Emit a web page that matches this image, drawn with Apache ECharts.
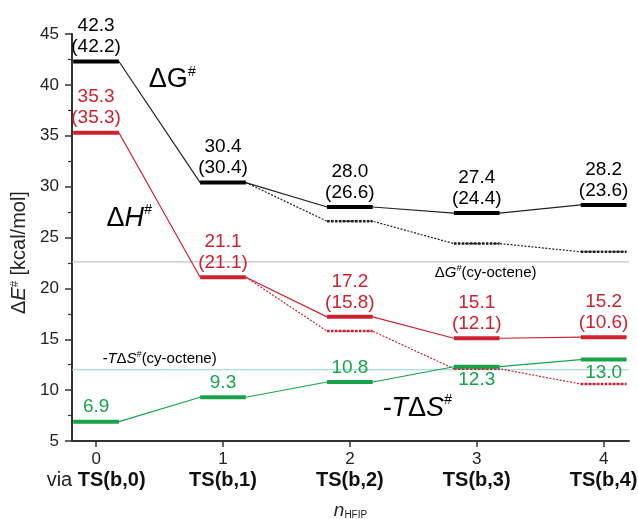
<!DOCTYPE html>
<html><head><meta charset="utf-8">
<script src="https://cdn.jsdelivr.net/npm/echarts@6/dist/echarts.min.js"></script>
<style>html,body{margin:0;padding:0;background:#fff}#c{width:638px;height:519px}</style>
</head><body><div id="c"></div>
<script>
// ---- data ----
const nHFIP = [0, 1, 2, 3, 4];
const tsPrefix = ['via ', '', '', '', ''];
const tsNames = ['TS(b,0)', 'TS(b,1)', 'TS(b,2)', 'TS(b,3)', 'TS(b,4)'];
const dG = [42.3, 30.4, 28.0, 27.4, 28.2];
const dGalt = [42.2, 30.4, 26.6, 24.4, 23.6];
const dH = [35.3, 21.1, 17.2, 15.1, 15.2];
const dHalt = [35.3, 21.1, 15.8, 12.1, 10.6];
const mTdS = [6.9, 9.3, 10.8, 12.3, 13.0];
const dGref = 22.6;    // ΔG#(cy-octene)
const mTdSref = 12.0;  // -TΔS#(cy-octene)
const yTicks = [5, 10, 15, 20, 25, 30, 35, 40, 45];

// ---- style ----
const HW = 0.18;
const FONT = '"Liberation Sans", Arial, Helvetica, sans-serif';
const RED = '#cc2231', GREEN = '#18a34b';
const greenLabelPos = ['top', 'top', 'top', 'bottom', 'bottom'];

function stepPath(vals, startIdx) {
  const pts = [];
  vals.forEach((v, i) => {
    if (i < startIdx) return;
    if (i === startIdx && startIdx > 0) { pts.push([nHFIP[i] + HW, v]); return; }
    pts.push([nHFIP[i] - HW, v]); pts.push([nHFIP[i] + HW, v]);
  });
  return pts;
}

function barSeries(vals, color, width, dash, fromIdx, labels, labelPos) {
  const data = [];
  vals.forEach((v, i) => { if (i >= fromIdx) data.push([nHFIP[i], v, i]); });
  return {
    type: 'custom', z: 5, silent: true,
    data: data,
    renderItem(params, api) {
      const x = api.value(0), v = api.value(1), i = api.value(2);
      const a = api.coord([x - HW, v]), b = api.coord([x + HW, v]);
      const children = [{
        type: 'line', shape: { x1: a[0], y1: a[1], x2: b[0], y2: b[1] },
        style: { stroke: color, lineWidth: width, lineDash: dash }
      }];
      if (labels) {
        const up = labelPos[i] === 'top';
        children.push({
          type: 'text', x: (a[0] + b[0]) / 2, y: up ? a[1] - 4 : a[1] + 3,
          style: {
            text: labels[i], align: 'center', verticalAlign: up ? 'bottom' : 'top',
            font: '19px ' + FONT, fill: color, lineHeight: 21
          }
        });
      }
      return { type: 'group', children };
    }
  };
}

function textSeries(x, y, text, rich) {
  return {
    type: 'custom', z: 6, silent: true,
    data: [[x, y]],
    renderItem(params, api) {
      const p = api.coord([api.value(0), api.value(1)]);
      return {
        type: 'text', x: p[0], y: p[1],
        style: { text, rich, align: 'center', verticalAlign: 'middle' }
      };
    }
  };
}

function lineSeries(pts, color, width, type) {
  return {
    type: 'line', data: pts, symbol: 'none', silent: true, z: 3,
    lineStyle: { color, width, type: type || 'solid' }, animation: false
  };
}

const pair = (a, b) => a.map((v, i) => v.toFixed(1) + '\n(' + b[i].toFixed(1) + ')');
const allPos = (p) => nHFIP.map(() => p);

const bigRich = (c) => ({
  r: { fontFamily: FONT, fontSize: 27, color: c, lineHeight: 30 },
  i: { fontFamily: FONT, fontSize: 27, color: c, fontStyle: 'italic', lineHeight: 30 },
  s: { fontFamily: FONT, fontSize: 14, color: c, fontStyle: 'italic', verticalAlign: 'top', lineHeight: 30 }
});
const smallRich = {
  r: { fontFamily: FONT, fontSize: 15, color: '#222', lineHeight: 18 },
  i: { fontFamily: FONT, fontSize: 15, color: '#222', fontStyle: 'italic', lineHeight: 18 },
  s: { fontFamily: FONT, fontSize: 9, color: '#222', fontStyle: 'italic', verticalAlign: 'top', lineHeight: 18 }
};

const chart = echarts.init(document.getElementById('c'), null, { renderer: 'canvas' });
chart.setOption({
  animation: false,
  backgroundColor: '#fff',
  grid: { left: 72, right: 9, top: 34, bottom: 78, containLabel: false, outerBoundsMode: 'none' },
  xAxis: {
    type: 'value', min: -0.19, max: 4.2,
    splitLine: { show: false },
    axisLine: { show: true, onZero: false, lineStyle: { color: '#333', width: 2 } },
    axisTick: { show: true, customValues: nHFIP, length: 6, lineStyle: { color: '#333', width: 1.5 } },
    axisLabel: {
      customValues: nHFIP, margin: 9,
      formatter: (v) => {
        const i = nHFIP.indexOf(v);
        return '{n|' + v + '}\n' + (tsPrefix[i] ? '{v|' + tsPrefix[i] + '}' : '') + '{b|' + tsNames[i] + '}';
      },
      rich: {
        n: { fontFamily: FONT, fontSize: 17, color: '#222', lineHeight: 19 },
        v: { fontFamily: FONT, fontSize: 20, color: '#222', lineHeight: 22 },
        b: { fontFamily: FONT, fontSize: 20, color: '#111', fontWeight: 'bold', lineHeight: 22 }
      }
    },
    name: '{i|n}{s|HFIP}', nameLocation: 'middle', nameGap: 60,
    nameTextStyle: {
      rich: {
        i: { fontFamily: FONT, fontSize: 19, fontStyle: 'italic', color: '#222' },
        s: { fontFamily: FONT, fontSize: 10, color: '#222', verticalAlign: 'bottom', padding: [8, 0, 0, 0] }
      }
    }
  },
  yAxis: {
    type: 'value', min: yTicks[0], max: yTicks[yTicks.length - 1], interval: 5,
    splitLine: { show: false },
    axisLine: { show: true, onZero: false, lineStyle: { color: '#333', width: 2 } },
    axisTick: { show: true, length: 7, lineStyle: { color: '#333', width: 1.5 } },
    minorTick: { show: true, splitNumber: 2, length: 4, lineStyle: { color: '#333', width: 1.2 } },
    axisLabel: { fontFamily: FONT, fontSize: 17, color: '#222', margin: 13 },
    name: '{r|Δ}{i|E}{s|#}{r| [kcal/mol]}', nameLocation: 'middle', nameGap: 37,
    nameTextStyle: {
      padding: [0, 30, 0, 0],
      rich: {
        r: { fontFamily: FONT, fontSize: 20, color: '#222' },
        i: { fontFamily: FONT, fontSize: 20, fontStyle: 'italic', color: '#222' },
        s: { fontFamily: FONT, fontSize: 11, fontStyle: 'italic', color: '#222', verticalAlign: 'top' }
      }
    }
  },
  series: [
    // reference lines
    lineSeries([[-0.19, dGref], [4.2, dGref]], '#b5b5b5', 1),
    lineSeries([[-0.19, mTdSref], [4.2, mTdSref]], '#8fd6cc', 1),
    // connectors
    lineSeries(stepPath(dG, 0), '#222', 1.2),
    lineSeries(stepPath(dGalt, 1), '#222', 1.2, [2, 1.5]),
    lineSeries(stepPath(dH, 0), RED, 1.2),
    lineSeries(stepPath(dHalt, 1), RED, 1.2, [2, 1.5]),
    lineSeries(stepPath(mTdS, 0), GREEN, 1.2),
    // level bars
    barSeries(dGalt, '#222', 2.5, [2.5, 1.5], 2, null, null),
    barSeries(dHalt, RED, 2.5, [2.5, 1.5], 2, null, null),
    barSeries(dG, '#000', 4, null, 0, pair(dG, dGalt), allPos('top')),
    barSeries(dH, RED, 4, null, 0, pair(dH, dHalt), allPos('top')),
    barSeries(mTdS, GREEN, 4, null, 0, mTdS.map(v => v.toFixed(1)), greenLabelPos),
    // annotations
    textSeries(0.60, 40.5, '{r|ΔG}{s|#}', bigRich('#111')),
    textSeries(0.26, 26.9, '{r|Δ}{i|H}{s|#}', bigRich(RED)),
    textSeries(2.53, 8.2, '{i|-T}{r|Δ}{i|S}{s|#}', bigRich(GREEN)),
    textSeries(3.07, 21.5, '{r|Δ}{i|G}{s|#}{r|(cy-octene)}', smallRich),
    textSeries(0.50, 13.05, '{i|-T}{r|Δ}{i|S}{s|#}{r|(cy-octene)}', smallRich)
  ]
});
</script>
</body></html>
